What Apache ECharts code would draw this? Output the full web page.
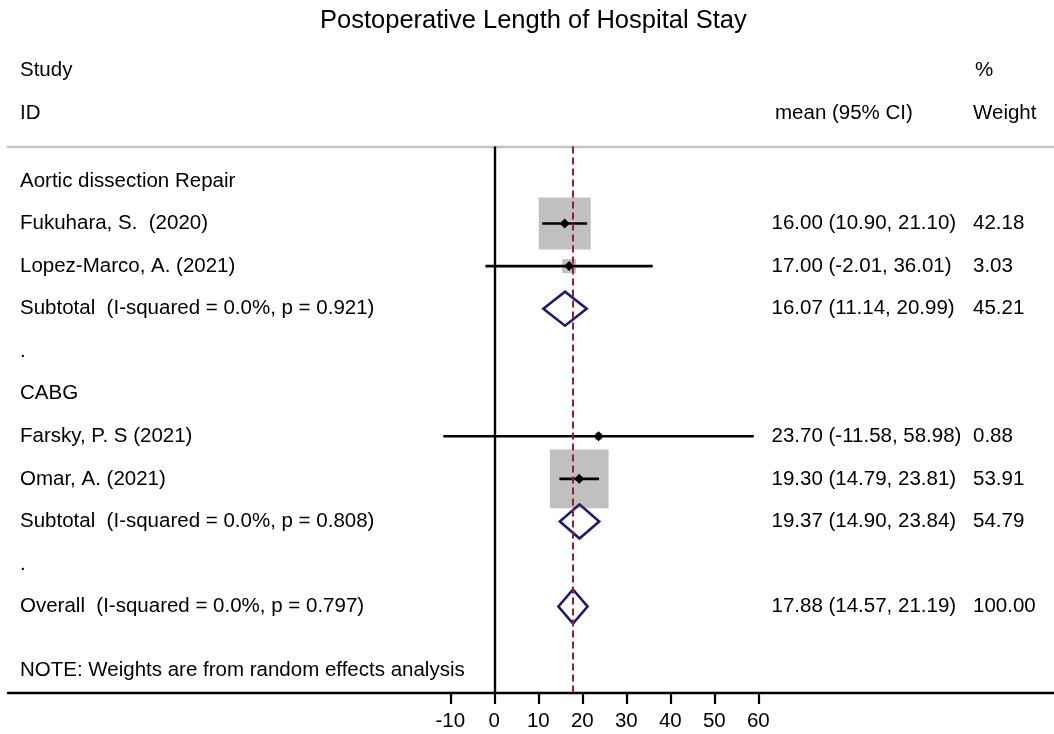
<!DOCTYPE html>
<html>
<head>
<meta charset="utf-8">
<script src="https://cdn.jsdelivr.net/npm/echarts@6/dist/echarts.min.js"></script>
<style>
html,body{margin:0;padding:0;background:#fff;}
#chart{width:1054px;height:734px;}
</style>
</head>
<body>
<div id="chart"></div>
<script>
// ---------- data ----------
const chartTitle = 'Postoperative Length of Hospital Stay';
const studyLabels = [
  'Aortic dissection Repair',
  'Fukuhara, S.  (2020)',
  'Lopez-Marco, A. (2021)',
  'Subtotal  (I-squared = 0.0%, p = 0.921)',
  '.',
  'CABG',
  'Farsky, P. S (2021)',
  'Omar, A. (2021)',
  'Subtotal  (I-squared = 0.0%, p = 0.808)',
  '.',
  'Overall  (I-squared = 0.0%, p = 0.797)'
];
const rowTypes = ['group','study','study','subtotal','blank','group','study','study','subtotal','blank','overall'];
const means   = [null, 16.00, 17.00, 16.07, null, null, 23.70, 19.30, 19.37, null, 17.88];
const lowers  = [null, 10.90, -2.01, 11.14, null, null, -11.58, 14.79, 14.90, null, 14.57];
const uppers  = [null, 21.10, 36.01, 20.99, null, null, 58.98, 23.81, 23.84, null, 21.19];
const weights = [null, 42.18, 3.03, 45.21, null, null, 0.88, 53.91, 54.79, null, 100.00];
const overallMean = 17.88;
const xTicks = [-10, 0, 10, 20, 30, 40, 50, 60];
const headerStudy = ['Study', 'ID'];
const headerRight = ['%', 'mean (95% CI)', 'Weight'];
const noteText = 'NOTE: Weights are from random effects analysis';

// ---------- styling ----------
const FONT_FAMILY = '"Liberation Sans", Arial, Helvetica, sans-serif';
const FS = 20.5;
const FONT = FS + 'px ' + FONT_FAMILY;
const TXT = '#000';
const NAVY = '#1a1a72';
const BOXC = '#c0c0c0';
const REDC = '#9a1f2a';

const rowIdx = studyLabels.map((_, i) => i);

function fmt(v){ return v.toFixed(2); }

function renderBoxes(params, api){
  const i = api.value(0);
  if (rowTypes[i] !== 'study') return null;
  const p = api.coord([means[i], i]);
  const side = 8 * Math.sqrt(weights[i]);
  return {
    type: 'rect',
    shape: {x: p[0] - side/2, y: p[1] - side/2, width: side, height: side},
    style: {fill: BOXC}
  };
}

function renderRows(params, api){
  const i = api.value(0);
  const yc = api.coord([0, i])[1];
  const children = [];
  children.push({
    type: 'text', x: 20, y: yc,
    style: {text: studyLabels[i], font: FONT, fill: TXT, align: 'left', verticalAlign: 'middle'}
  });
  if (means[i] != null) {
    children.push({
      type: 'text', x: 771.5, y: yc,
      style: {text: fmt(means[i]) + ' (' + fmt(lowers[i]) + ', ' + fmt(uppers[i]) + ')', font: FONT, fill: TXT, align: 'left', verticalAlign: 'middle'}
    });
    children.push({
      type: 'text', x: 973, y: yc,
      style: {text: fmt(weights[i]), font: FONT, fill: TXT, align: 'left', verticalAlign: 'middle'}
    });
    const pL = api.coord([lowers[i], i]);
    const pU = api.coord([uppers[i], i]);
    const pM = api.coord([means[i], i]);
    if (rowTypes[i] === 'study') {
      children.push({
        type: 'line',
        shape: {x1: pL[0], y1: yc, x2: pU[0], y2: yc},
        style: {stroke: '#000', lineWidth: 2.6}
      });
      const h = 5;
      children.push({
        type: 'polygon',
        shape: {points: [[pM[0]-h, yc],[pM[0], yc-h],[pM[0]+h, yc],[pM[0], yc+h]]},
        style: {fill: '#000'}
      });
    } else {
      const hh = api.size([0, 0.8])[1] / 2;
      children.push({
        type: 'polygon',
        shape: {points: [[pL[0], yc],[pM[0], yc-hh],[pU[0], yc],[pM[0], yc+hh]]},
        style: {fill: 'none', stroke: NAVY, lineWidth: 2.6, lineJoin: 'miter'}
      });
    }
  }
  return {type: 'group', children: children};
}

// ---------- layout ----------
const GRID_LEFT = 8, GRID_TOP = 146.5, GRID_BOTTOM_Y = 693;
const ZERO_PX = 494.3, PX_PER_UNIT = 4.4;
const xMin = (GRID_LEFT - ZERO_PX) / PX_PER_UNIT;
const xMax = (1054 - ZERO_PX) / PX_PER_UNIT;
const ROW0 = 181, ROW_STEP = 42.55;
const yMin = (GRID_TOP - ROW0) / ROW_STEP;
const yMax = (GRID_BOTTOM_Y - ROW0) / ROW_STEP;

const chart = echarts.init(document.getElementById('chart'), null, {renderer: 'canvas'});

const graphics = [
  {type:'text', left: 320, top: 8, style:{text: chartTitle, font: '25.5px ' + FONT_FAMILY, fill: TXT}},
  {type:'text', x: 20, y: 70, style:{text: headerStudy[0], font: FONT, fill: TXT, verticalAlign:'middle'}},
  {type:'text', x: 20, y: 113, style:{text: headerStudy[1], font: FONT, fill: TXT, verticalAlign:'middle'}},
  {type:'text', x: 975, y: 70, style:{text: headerRight[0], font: FONT, fill: TXT, verticalAlign:'middle'}},
  {type:'text', x: 775, y: 113, style:{text: headerRight[1], font: FONT, fill: TXT, verticalAlign:'middle'}},
  {type:'text', x: 973, y: 113, style:{text: headerRight[2], font: FONT, fill: TXT, verticalAlign:'middle'}},
  {type:'text', x: 20, y: 670, style:{text: noteText, font: FONT, fill: TXT, verticalAlign:'middle'}}
];

chart.setOption({
  animation: false,
  backgroundColor: '#fff',
  graphic: graphics,
  grid: {left: GRID_LEFT, right: 0, top: GRID_TOP, bottom: 734 - GRID_BOTTOM_Y, containLabel: false},
  xAxis: [
    {
      type: 'value', position: 'bottom', min: xMin, max: xMax,
      splitLine: {show: false},
      axisLine: {show: true, onZero: false, lineStyle: {color: '#000', width: 2.4}},
      axisTick: {show: true, customValues: xTicks, length: 11, lineStyle: {color: '#000', width: 2.2}},
      axisLabel: {show: true, customValues: xTicks, margin: 18, fontSize: FS, fontFamily: FONT_FAMILY, color: TXT}
    },
    {
      type: 'value', position: 'top', min: xMin, max: xMax,
      splitLine: {show: false},
      axisLine: {show: true, onZero: false, lineStyle: {color: '#c4c4c4', width: 2.4}},
      axisTick: {show: false}, axisLabel: {show: false}
    }
  ],
  yAxis: {
    type: 'value', inverse: true, min: yMin, max: yMax, show: false
  },
  series: [
    {
      type: 'custom', name: 'boxes', z: 1,
      renderItem: renderBoxes,
      data: rowIdx, encode: {y: 0}, clip: false
    },
    {
      type: 'line', name: 'refLines', z: 2, data: [], symbol: 'none',
      markLine: {
        silent: true, symbol: ['none', 'none'], label: {show: false},
        data: [
          {xAxis: 0, lineStyle: {color: '#000', width: 2.4, type: 'solid'}},
          {xAxis: overallMean, lineStyle: {color: REDC, width: 2, type: [7, 4]}}
        ]
      }
    },
    {
      type: 'custom', name: 'rows', z: 3,
      renderItem: renderRows,
      data: rowIdx, encode: {y: 0}, clip: false
    }
  ]
});
</script>
</body>
</html>
